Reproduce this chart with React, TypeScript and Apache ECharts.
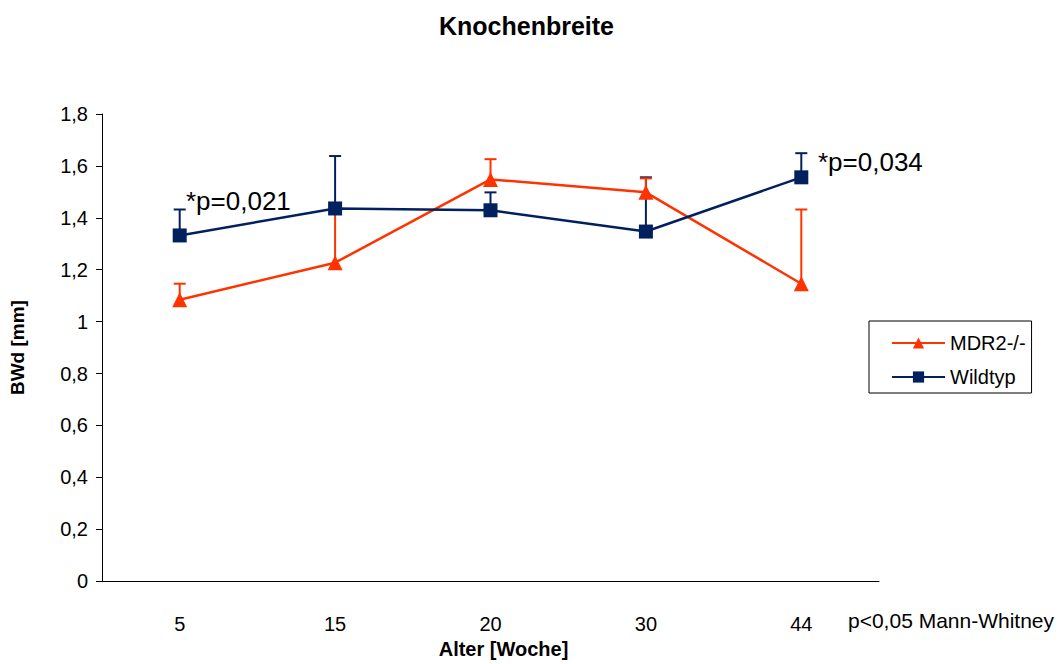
import React, { useEffect, useRef } from "react";
import * as echarts from "echarts";

const categories = ["5", "15", "20", "30", "44"];
const mdr2Mean = [1.084, 1.227, 1.548, 1.498, 1.146];
const mdr2Upper = [1.146, 1.44, 1.626, 1.552, 1.432];
const wildMean = [1.332, 1.436, 1.429, 1.347, 1.556];
const wildUpper = [1.432, 1.638, 1.498, 1.556, 1.649];

const RED = "#FF3300";
const BLUE = "#00205E";
const FONT = "Liberation Sans, Arial, sans-serif";

function errorSeries(name: string, means: number[], uppers: number[], color: string) {
  return {
    type: "custom",
    name: name + "_err",
    z: 1,
    silent: true,
    encode: { x: 0, y: [1, 2] },
    data: means.map((m, i) => [i, m, uppers[i]]),
    renderItem: (params: any, api: any) => {
      const x = api.value(0);
      const p1 = api.coord([x, api.value(1)]);
      const p2 = api.coord([x, api.value(2)]);
      return {
        type: "group",
        children: [
          { type: "line", shape: { x1: p1[0], y1: p1[1], x2: p2[0], y2: p2[1] }, style: { stroke: color, lineWidth: 2 } },
          { type: "line", shape: { x1: p2[0] - 6, y1: p2[1], x2: p2[0] + 6, y2: p2[1] }, style: { stroke: color, lineWidth: 2 } },
        ],
      };
    },
  };
}

export default function App() {
  const ref = useRef<HTMLDivElement>(null);
  useEffect(() => {
    const chart = echarts.init(ref.current!, null, { renderer: "svg" });
    chart.setOption({
      animation: false,
      backgroundColor: "#fff",
      title: {
        text: "Knochenbreite",
        left: 434,
        top: 8,
        textStyle: { fontFamily: FONT, fontSize: 25, fontWeight: "bold", color: "#000" },
      },
      legend: {
        left: 869,
        top: 321,
        orient: "vertical",
        data: ["MDR2-/-", "Wildtyp"],
        itemWidth: 53,
        itemHeight: 14,
        itemGap: 14,
        padding: [12, 6, 6, 22],
        borderColor: "#000",
        borderWidth: 1,
        backgroundColor: "#fff",
        borderRadius: 0,
        textStyle: { fontFamily: FONT, fontSize: 20, color: "#000", padding: [0, 0, 0, 0] },
      },
      grid: { left: 100, right: 181, top: 114, bottom: 80 },
      xAxis: {
        type: "category",
        data: categories,
        boundaryGap: true,
        name: "Alter [Woche]",
        nameLocation: "middle",
        nameGap: 57,
        nameTextStyle: { fontFamily: FONT, fontSize: 20, fontWeight: "bold", color: "#000", padding: [0, 0, 0, 26] },
        axisLine: { lineStyle: { color: "#000", width: 1 } },
        axisTick: { alignWithLabel: false, length: 8, lineStyle: { color: "#000" } },
        axisLabel: { margin: 33, fontFamily: FONT, fontSize: 20, color: "#000" },
        splitLine: { show: false },
      },
      yAxis: {
        type: "value",
        min: 0,
        max: 1.8,
        interval: 0.2,
        name: "BWd [mm]",
        nameLocation: "middle",
        nameGap: 75,
        nameTextStyle: { fontFamily: FONT, fontSize: 19, fontWeight: "bold", color: "#000" },
        axisLine: { show: true, lineStyle: { color: "#000", width: 1 } },
        axisTick: { show: true, length: 6, lineStyle: { color: "#000" } },
        axisLabel: {
          margin: 14,
          fontFamily: FONT,
          fontSize: 20,
          color: "#000",
          formatter: (v: number) => String(Math.round(v * 10) / 10).replace(".", ","),
        },
        splitLine: { show: false },
      },
      graphic: [
        { type: "text", left: 186, top: 188, style: { text: "*p=0,021", font: `26px ${FONT}`, fill: "#000" } },
        { type: "text", left: 818, top: 149, style: { text: "*p=0,034", font: `26px ${FONT}`, fill: "#000" } },
        { type: "text", left: 848, top: 610, style: { text: "p<0,05 Mann-Whitney", font: `21px ${FONT}`, fill: "#000" } },
      ],
      series: [
        errorSeries("Wildtyp", wildMean, wildUpper, BLUE),
        errorSeries("MDR2-/-", mdr2Mean, mdr2Upper, RED),
        {
          type: "line",
          name: "Wildtyp",
          data: wildMean,
          z: 3,
          symbol: "rect",
          symbolSize: 14,
          lineStyle: { color: BLUE, width: 2.5 },
          itemStyle: { color: BLUE },
        },
        {
          type: "line",
          name: "MDR2-/-",
          data: mdr2Mean,
          z: 2,
          symbol: "triangle",
          symbolSize: 15,
          lineStyle: { color: RED, width: 2.5 },
          itemStyle: { color: RED },
        },
      ],
    });
    return () => chart.dispose();
  }, []);
  return <div ref={ref} style={{ position: "absolute", left: 0, top: 0, width: 1060, height: 664 }} />;
}
